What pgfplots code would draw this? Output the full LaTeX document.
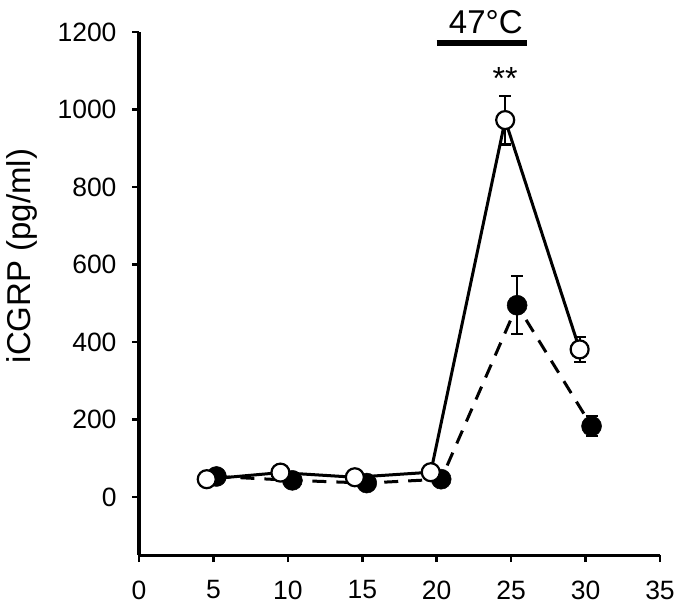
\documentclass[border=0pt]{standalone}
\usepackage{fontspec}
\setmainfont{Liberation Sans}
\usepackage{pgfplots}
\pgfplotsset{compat=1.18}
\begin{document}
\begin{tikzpicture}
\begin{axis}[
  scale only axis,
  width=521pt, height=523pt,
  xmin=0, xmax=35, ymin=-150, ymax=1200,
  axis lines=left,
  axis line style={-, line width=3.2pt},
  xtick={0,5,...,35},
  ytick={0,200,...,1200},
  tick align=outside,
  major tick length=7pt,
  tick style={line width=2.5pt, black},
  /pgf/number format/assume math mode=true,
  /pgf/number format/set thousands separator={},
  tick label style={font=\fontsize{26.5}{30}\selectfont},
  yticklabel style={xshift=-12pt},
  xticklabel style={yshift=-15pt},
  ylabel={iCGRP (pg/ml)},
  ylabel style={at={(rel axis cs:-0.2246,0.572)}, anchor=center, rotate=0, font=\fontsize{33}{38}\selectfont},
  clip=false,
]
% filled series (dashed)
\addplot[black, line width=3pt, dash pattern=on 14pt off 10pt,
  mark=*, mark size=10pt, mark options={solid, fill=black, draw=black, line width=0.5pt},
  error bars/.cd, y dir=both, y explicit,
  error bar style={solid, line width=2.2pt, black},
  error mark options={rotate=90, mark size=6pt, line width=2.2pt, black, solid}]
  coordinates {
  (5.2,53) +- (0,8)
  (10.3,43) +- (0,8)
  (15.3,36) +- (0,8)
  (20.3,46) +- (0,8)
  (25.4,495) +- (0,75)
  (30.4,183) +- (0,26)
  };
% open series (solid)
\addplot[black, line width=3pt,
  mark=*, mark size=9pt, mark options={solid, fill=white, draw=black, line width=2.2pt},
  error bars/.cd, y dir=both, y explicit,
  error bar style={solid, line width=2.2pt, black},
  error mark options={rotate=90, mark size=6pt, line width=2.2pt, black, solid}]
  coordinates {
  (4.55,46) +- (0,8)
  (9.5,63) +- (0,8)
  (14.5,51) +- (0,8)
  (19.6,64) +- (0,8)
  (24.6,973) +- (0,63)
  (29.6,381) +- (0,33)
  };
% 47C bar
\addplot[black, line width=6pt, no marks] coordinates {(20,1171) (26.06,1171)};
\node[font=\fontsize{33}{38}\selectfont, anchor=center] at (axis cs:23.3,1227) {47°C};
\node[font=\fontsize{32}{36}\selectfont, anchor=center] at (axis cs:24.6,1081) {**};
\coordinate (bbll) at (axis cs:-9.34,-303);
\coordinate (bbur) at (axis cs:36.68,1283);
\end{axis}
\path[use as bounding box] (bbll) rectangle (bbur);
\end{tikzpicture}
\end{document}
